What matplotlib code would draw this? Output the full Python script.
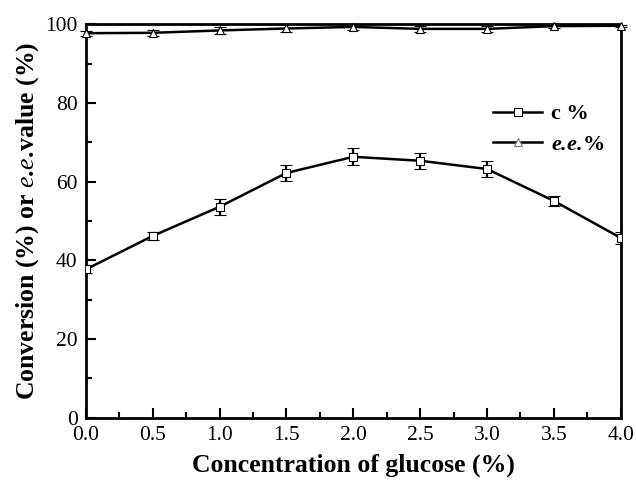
import matplotlib
matplotlib.use("Agg")
import matplotlib.pyplot as plt
from matplotlib.lines import Line2D
from matplotlib.ticker import MultipleLocator

# ── Data ────────────────────────────────────────────────────────────────
glucose = [0.0, 0.5, 1.0, 1.5, 2.0, 2.5, 3.0, 3.5, 4.0]
conversion = [37.7, 46.2, 53.6, 62.2, 66.3, 65.3, 63.2, 55.1, 45.7]
conversion_err = [1.0, 1.1, 2.0, 2.0, 2.2, 2.0, 2.0, 1.2, 1.5]
ee = [97.7, 97.8, 98.4, 98.9, 99.3, 98.8, 98.8, 99.5, 99.6]
ee_err = [0.6, 0.8, 0.9, 0.8, 0.7, 0.8, 0.8, 0.5, 0.3]
legend_labels = ["c %", r"$\mathbfit{e.\!e.\!}$%"]

plt.rcParams.update({
    "font.family": "serif",
    "font.serif": ["Liberation Serif", "DejaVu Serif"],
    "mathtext.fontset": "custom",
    "mathtext.rm": "Liberation Serif:bold",
    "mathtext.it": "Liberation Serif:italic",
    "mathtext.bf": "Liberation Serif:bold",
    "mathtext.bfit": "Liberation Serif:italic:bold",
})

fig = plt.figure(figsize=(6.36, 4.83), dpi=100)
ax = fig.add_axes([0.135, 0.135, 0.841, 0.815])

ax.errorbar(glucose, conversion, yerr=conversion_err, color="black", lw=1.8,
            marker="s", ms=6, mfc="white", mec="black", mew=0.8,
            ecolor="black", elinewidth=1.6, capsize=4, capthick=2.2,
            zorder=3)
ax.errorbar(glucose, ee, yerr=ee_err, color="black", lw=1.8,
            marker="^", ms=6, mfc="white", mec="black", mew=0.8,
            ecolor="black", elinewidth=1.6, capsize=4, capthick=2.2,
            zorder=3, clip_on=False)

ax.set_xlim(0, 4)
ax.set_ylim(0, 100)
ax.xaxis.set_major_locator(MultipleLocator(0.5))
ax.xaxis.set_minor_locator(MultipleLocator(0.25))
ax.yaxis.set_major_locator(MultipleLocator(20))
ax.yaxis.set_minor_locator(MultipleLocator(10))
ax.xaxis.set_major_formatter(plt.FuncFormatter(lambda v, _: f"{v:.1f}"))
ax.tick_params(which="both", direction="in", top=False, right=False,
               labelsize=15.5, width=1.5)
ax.tick_params(which="major", length=7)
ax.tick_params(which="minor", length=4)
ax.tick_params(axis="x", pad=6)
ax.tick_params(axis="y", pad=6)
for s in ax.spines.values():
    s.set_linewidth(2)

ax.set_xlabel("Concentration of glucose (%)", fontsize=18.5, fontweight="bold",
              labelpad=6)
ax.set_ylabel(r"Conversion (%) or $\mathit{e.\!e.\!}$value (%)", fontsize=18.5,
              fontweight="bold", labelpad=3)

handles = [
    Line2D([], [], color="black", lw=1.8, marker="s", ms=6, mfc="white",
           mec="black", mew=0.8),
    Line2D([], [], color="black", lw=1.8, marker="^", ms=6, mfc="white",
           mec="gray", mew=0.8),
]
ax.legend(handles, legend_labels, loc="upper left",
          bbox_to_anchor=(0.745, 0.82), frameon=False, borderaxespad=0,
          handlelength=2.2, handletextpad=0.4, labelspacing=0.45,
          prop={"weight": "bold", "size": 16})

fig.savefig("out.png", dpi=100, facecolor="white")
